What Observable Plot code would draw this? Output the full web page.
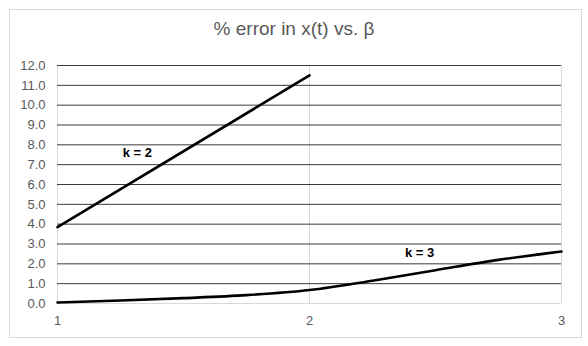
<!DOCTYPE html>
<html>
<head>
<meta charset="utf-8">
<script src="https://cdn.jsdelivr.net/npm/d3@7"></script>
<script src="https://cdn.jsdelivr.net/npm/@observablehq/plot@0.6"></script>
<style>
  html, body { margin: 0; padding: 0; background: #fff; }
  #wrap { position: relative; width: 588px; height: 346px; overflow: hidden; }
  #border { position: absolute; left: 9px; top: 9px; width: 571px; height: 327px; border: 1px solid #d9d9d9; box-sizing: content-box; }
  #title { position: absolute; left: 0; top: 18px; width: 588px; text-align: center;
           font-family: "Liberation Sans", Arial, sans-serif; font-size: 19px; color: #595959; }
  #chart { position: absolute; left: 0; top: 0; }
</style>
</head>
<body>
<div id="wrap">
  <div id="border"></div>
  <div id="title">% error in x(t) vs. β</div>
  <div id="chart"></div>
</div>
<script>
// Data
const betaK2 = [1, 2];
const errK2 = [3.85, 11.5];

const betaK3 = [1, 1.25, 1.5, 1.75, 2, 2.25, 2.5, 2.75, 3];
const errK3 = [0.05, 0.15, 0.27, 0.42, 0.68, 1.15, 1.68, 2.2, 2.62];

const seriesLabels = ["k = 2", "k = 3"];
const labelBeta = [1.317, 2.437];
const labelErr = [7.6, 2.57];

const xTicks = [1, 2, 3];
const yTicks = [0, 1, 2, 3, 4, 5, 6, 7, 8, 9, 10, 11, 12];

const k2 = betaK2.map((b, i) => ({beta: b, err: errK2[i]}));
const k3 = betaK3.map((b, i) => ({beta: b, err: errK3[i]}));
const labels = seriesLabels.map((t, i) => ({text: t, beta: labelBeta[i], err: labelErr[i]}));

const chart = Plot.plot({
  width: 588,
  height: 346,
  marginLeft: 57,
  marginRight: 27,
  marginTop: 65,
  marginBottom: 43,
  style: {fontFamily: "'Liberation Sans', Arial, sans-serif", fontSize: "13px", color: "#595959", background: "transparent", overflow: "visible"},
  x: {domain: [1, 3], label: null},
  y: {domain: [0, 12], label: null},
  marks: [
    Plot.ruleX(xTicks, {stroke: "#d9d9d9", strokeWidth: 1}),
    Plot.ruleY(yTicks.filter(v => v > 0), {stroke: "#3a3a3a", strokeWidth: 1}),
    Plot.ruleY([0], {stroke: "#d9d9d9", strokeWidth: 1}),
    Plot.axisY({ticks: yTicks, tickSize: 0, tickPadding: 12, tickFormat: d => d.toFixed(1), label: null}),
    Plot.axisX({ticks: xTicks, tickSize: 0, tickPadding: 12, tickFormat: d => String(d), label: null}),
    Plot.line(k2, {x: "beta", y: "err", stroke: "#000", strokeWidth: 2.6}),
    Plot.line(k3, {x: "beta", y: "err", stroke: "#000", strokeWidth: 2.6, curve: "monotone-x"}),
    Plot.text(labels, {x: "beta", y: "err", text: "text", fill: "#000", fontWeight: "bold", fontSize: 13})
  ]
});
document.getElementById("chart").appendChild(chart);
</script>
</body>
</html>
